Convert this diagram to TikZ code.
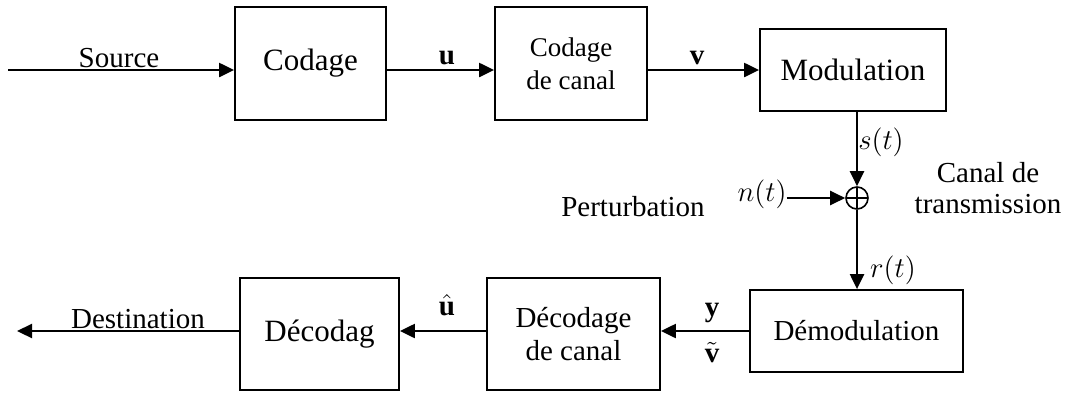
\documentclass[tikz,border=0pt]{standalone}
\usepackage{amsmath}
\usepackage{fontspec}
\setmainfont{Liberation Serif}
\usetikzlibrary{arrows.meta}

\tikzset{
  block/.style={draw, line width=0.9pt, inner sep=0pt, align=center,
    font=\fontsize{14.5}{16.5}\selectfont},
  bigblock/.style={block, font=\fontsize{15.5}{17}\selectfont},
  smallblock/.style={block, font=\fontsize{13.5}{16.5}\selectfont},
  lbl/.style={inner sep=0pt, font=\fontsize{14.5}{16.5}\selectfont},
  sig/.style={line width=1.1pt, -{Triangle[length=7.5pt,width=7pt]}},
  adder/.style={draw, circle, line width=0.8pt, minimum size=11pt, inner sep=0pt,
    path picture={\draw[line width=0.8pt]
      (path picture bounding box.north) -- (path picture bounding box.south)
      (path picture bounding box.west) -- (path picture bounding box.east);}},
}

\begin{document}
\begin{tikzpicture}[x=0.5pt, y=-0.5pt]
  \useasboundingbox (0,0) rectangle (1065,392);
  \node[bigblock, minimum width=75.5pt, minimum height=56.5pt] (codage) at (310.5,63.5) {Codage};
  \node[smallblock, minimum width=76pt, minimum height=56.5pt] (canal) at (571,63.5) {Codage\\de canal};
  \node[bigblock, minimum width=93pt, minimum height=41pt] (modu) at (853,70) {Modulation};
  \node[adder] (sum) at (857,198) {};
  \node[block, minimum width=106.5pt, minimum height=41pt] (demod) at (856.5,331) {Démodulation};
  \node[block, minimum width=86.5pt, minimum height=56pt] (deccanal) at (573.5,334) {Décodage\\de canal};
  \node[bigblock, minimum width=79.5pt, minimum height=56pt] (decod) at (319.5,334) {Décodag};
  \coordinate (src) at (8,70);
  \coordinate (dest) at (17,331);
  \node[lbl, anchor=base] (srclbl) at (119,67) {Source};
  \node[lbl] (ulbl) at (447,58) {$\mathbf{u}$};
  \node[lbl] (vlbl) at (697,58) {$\mathbf{v}$};
  \node[lbl] (slbl) at (881,142) {$s(t)$};
  \node[lbl] (nlbl) at (762,194) {$n(t)$};
  \node[lbl] (pertlbl) at (633,207) {Perturbation};
  \node[lbl, align=center, font=\fontsize{14.5}{15.5}\selectfont] (chlbl) at (988,188) {Canal de\\transmission};
  \node[lbl] (rlbl) at (893,270) {$r(t)$};
  \node[lbl] (ylbl) at (712,313) {$\mathbf{y}$};
  \node[lbl] (vtlbl) at (712,353) {$\tilde{\mathbf{v}}$};
  \node[lbl] (uhlbl) at (447,305) {$\hat{\mathbf{u}}$};
  \node[lbl, anchor=base] (destlbl) at (138,328) {Destination};
  \draw[sig] (src) -- (codage.west |- modu);
  \draw[sig] (codage.east |- modu) -- (canal.west |- modu);
  \draw[sig] (canal.east |- modu) -- (modu.west);
  \draw[sig] (modu.south -| sum) -- (sum.north);
  \draw[sig] (nlbl.east |- sum) -- (sum.west);
  \draw[sig] (sum.south) -- (demod.north -| sum);
  \draw[sig] (demod.west) -- (deccanal.east |- demod);
  \draw[sig] (deccanal.west |- demod) -- (decod.east |- demod);
  \draw[sig] (decod.west |- demod) -- (dest);
\end{tikzpicture}
\end{document}
